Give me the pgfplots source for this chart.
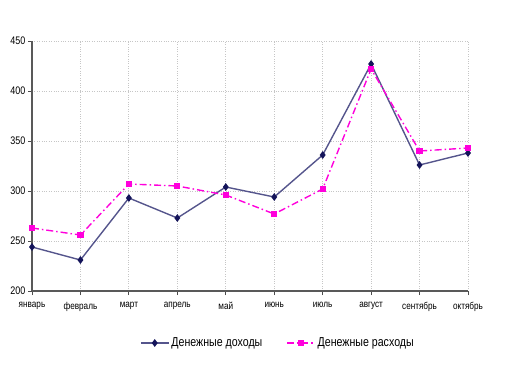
\documentclass[border=0pt]{standalone}
\usepackage{fontspec}
\setmainfont{Liberation Sans}
\newfontfamily\narrowfont[FakeStretch=0.82]{Liberation Sans}
\usepackage{pgfplots}
\pgfplotsset{compat=1.18}
\definecolor{navy}{RGB}{20,20,90}
\definecolor{incline}{RGB}{85,85,140}
\definecolor{mag}{RGB}{255,0,220}
\begin{document}
\begin{tikzpicture}[x=1bp,y=1bp]
\begin{axis}[
  name=ax,
  scale only axis,
  width=436bp, height=250bp,
  xmin=0, xmax=9, ymin=200, ymax=450,
  xtick={0,...,9},
  xticklabels={январь,февраль,март,апрель,май,июнь,июль,август,сентябрь,октябрь},
  ytick={200,250,...,450},
  axis x line*=bottom, axis y line*=left,
  axis line style={gray!70!black, line width=1.2pt},
  x axis line style={-}, y axis line style={-},
  tick style={gray!60!black, line width=0.8pt},
  xtick pos=bottom, ytick pos=left,
  tick align=outside, major tick length=4bp,
  grid=major,
  major grid style={gray!45, dotted, line width=0.9pt},
  /pgf/number format/assume math mode=true,
  yticklabel style={font=\narrowfont\fontsize{11}{12}\selectfont, xshift=1bp},
  xticklabel style={font=\narrowfont\fontsize{10}{12}\selectfont, yshift=-4bp},
  legend style={at={(0.564,-0.208)}, anchor=center, draw=none, fill=none,
    font=\narrowfont\fontsize{13}{15}\selectfont, legend columns=2,
    /tikz/every even column/.append style={column sep=22bp}},
  legend cell align=left,
  legend image code/.code={
    \draw[mark repeat=2,mark phase=2,#1] plot coordinates {(0bp,0bp) (14bp,0bp) (28bp,0bp)};},
  clip=false,
]
\addplot[incline, line width=1.4pt, mark=diamond*, mark size=2.8pt,
  mark options={fill=navy, draw=navy, solid}]
  coordinates {(0,244)(1,231)(2,293)(3,273)(4,304)(5,294)(6,336)(7,427)(8,326)(9,338)};
\addlegendentry{Денежные доходы}
\addplot[mag, line width=1.4pt, dash pattern=on 7pt off 3pt on 1.5pt off 3pt, mark=square*, mark size=2.4pt,
  mark options={fill=mag, draw=mag, solid}]
  coordinates {(0,263)(1,256)(2,307)(3,305)(4,296)(5,277)(6,302)(7,422)(8,340)(9,343)};
\addlegendentry{Денежные расходы}
\coordinate (bl) at (rel axis cs:-0.0734,-0.316);
\coordinate (tr) at (rel axis cs:1.133,1.164);
\end{axis}
\pgfresetboundingbox
\path (bl) rectangle (tr);
\end{tikzpicture}
\end{document}
